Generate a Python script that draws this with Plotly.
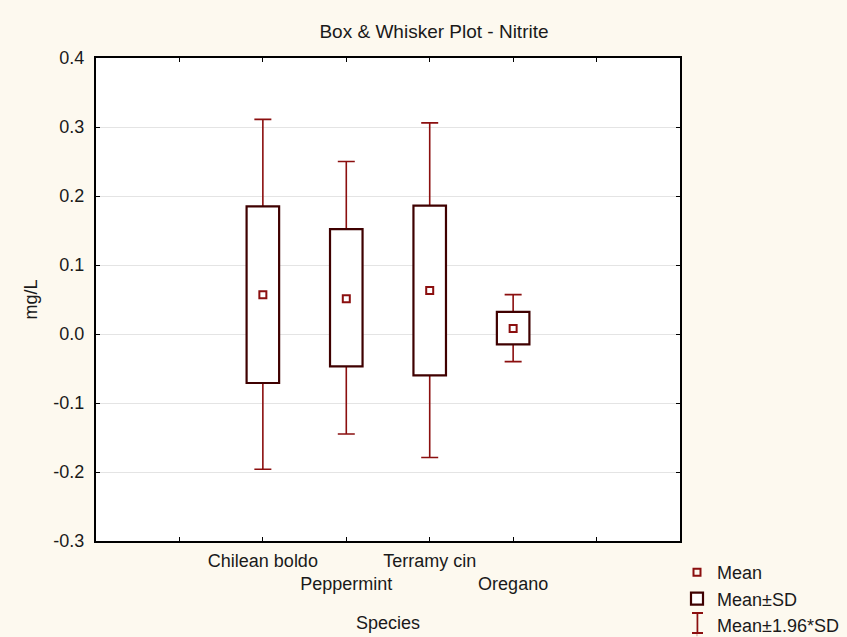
import plotly.graph_objects as go

# ---- data ----
species = ["Chilean boldo", "Peppermint", "Terramy cin", "Oregano"]
positions = [2, 3, 4, 5]
mean_vals = [0.057, 0.051, 0.063, 0.008]
sd_low = [-0.071, -0.047, -0.060, -0.015]
sd_high = [0.185, 0.152, 0.186, 0.032]
ci_low = [-0.196, -0.145, -0.179, -0.040]
ci_high = [0.311, 0.250, 0.306, 0.057]
y_tick_vals = [-0.3, -0.2, -0.1, 0.0, 0.1, 0.2, 0.3, 0.4]
y_tick_text = ["-0.3", "-0.2", "-0.1", "0.0", "0.1", "0.2", "0.3", "0.4"]
x_tick_vals = [1, 2, 3, 4, 5, 6]
x_tick_text = ["", "Chilean boldo", "<br>Peppermint", "Terramy cin", "<br>Oregano", ""]

FONT = "Liberation Sans, Arial, sans-serif"
TXT = "#1a1a1a"
WHISK = "#8b0f0f"
BOXC = "#3f0000"
BG = "#fdf9ef"

up_err = [h - m for h, m in zip(ci_high, mean_vals)]
down_err = [m - l for m, l in zip(mean_vals, ci_low)]
box_height = [h - l for h, l in zip(sd_high, sd_low)]

fig = go.Figure()

# whiskers (Mean ± 1.96*SD) carried by an invisible bar ending at the mean
fig.add_trace(go.Bar(
    x=positions, y=mean_vals, width=0.39,
    marker=dict(color="rgba(0,0,0,0)", line=dict(width=0)),
    error_y=dict(type="data", symmetric=False, array=up_err,
                 arrayminus=down_err, color=WHISK, thickness=1.6, width=8.5),
    showlegend=False, hoverinfo="skip",
))
# boxes (Mean ± SD), drawn over the middle of the whiskers
fig.add_trace(go.Bar(
    x=positions, base=sd_low, y=box_height, width=0.39,
    marker=dict(color="white", line=dict(color=BOXC, width=2.2)),
    name="Mean±SD", legendrank=2,
))
# means
fig.add_trace(go.Scatter(
    x=positions, y=mean_vals, mode="markers", name="Mean", legendrank=1,
    marker=dict(symbol="square-open", size=7, color=WHISK,
                line=dict(width=2, color=WHISK)),
))
# legend-only entry for whiskers (glyph drawn with shapes below)
fig.add_trace(go.Scatter(
    x=[None], y=[None], mode="markers", name="Mean±1.96*SD", legendrank=3,
    marker=dict(symbol="line-ns", size=16, color=WHISK, opacity=0,
                line=dict(width=2, color=WHISK)),
))

axis_common = dict(
    showline=True, linewidth=2, linecolor="black", mirror="ticks",
    ticks="inside", ticklen=4, tickwidth=1, tickcolor="black",
    tickfont=dict(family=FONT, size=18, color=TXT),
    zeroline=False, automargin=False, tickangle=0,
)

# plot area in pixels (for the legend glyph)
PL, PR, PT, PB = 96, 680, 58, 541


def px_x(v):
    return (v - PL) / (PR - PL)


def px_y(v):
    return (PB - v) / (PB - PT)


cx, cy, hw, hh = 697.5, 623, 5.5, 10
line_style = dict(color=WHISK, width=2)
legend_glyph = [
    dict(type="line", xref="paper", yref="paper",
         x0=px_x(cx), x1=px_x(cx), y0=px_y(cy - hh), y1=px_y(cy + hh),
         line=dict(color=WHISK, width=1.6)),
] + [
    dict(type="line", xref="paper", yref="paper",
         x0=px_x(cx - hw), x1=px_x(cx + hw),
         y0=px_y(cy + s * hh), y1=px_y(cy + s * hh), line=line_style)
    for s in (-1, 1)
]

fig.update_layout(
    width=847, height=637,
    margin=dict(l=PL, r=847 - PR, t=PT, b=637 - PB, autoexpand=False),
    paper_bgcolor=BG, plot_bgcolor="white",
    font=dict(family=FONT, size=18, color=TXT),
    barmode="overlay",
    title=dict(text="Box & Whisker Plot - Nitrite", x=434 / 847, xref="container",
               xanchor="center", y=1 - 31 / 637, yanchor="middle",
               font=dict(family=FONT, size=19, color=TXT)),
    xaxis=dict(range=[0, 7], tickmode="array", tickvals=x_tick_vals,
               ticktext=x_tick_text, showgrid=False, ticklabelstandoff=2,
               title=dict(text="Species", standoff=23,
                          font=dict(family=FONT, size=18, color=TXT)),
               **axis_common),
    yaxis=dict(range=[-0.3, 0.4], tickmode="array", tickvals=y_tick_vals,
               ticktext=y_tick_text, showgrid=True, gridcolor="#e4e4e4",
               gridwidth=1, ticklabelstandoff=6,
               title=dict(text="mg/L", standoff=11,
                          font=dict(family=FONT, size=18, color=TXT)),
               **axis_common),
    legend=dict(x=px_x(677), xanchor="left", y=-0.027, yanchor="top",
                bgcolor="rgba(0,0,0,0)", traceorder="normal",
                font=dict(family=FONT, size=18, color=TXT),
                itemwidth=30, tracegroupgap=0),
    shapes=legend_glyph,
    showlegend=True,
)

fig.write_html("out.html")
